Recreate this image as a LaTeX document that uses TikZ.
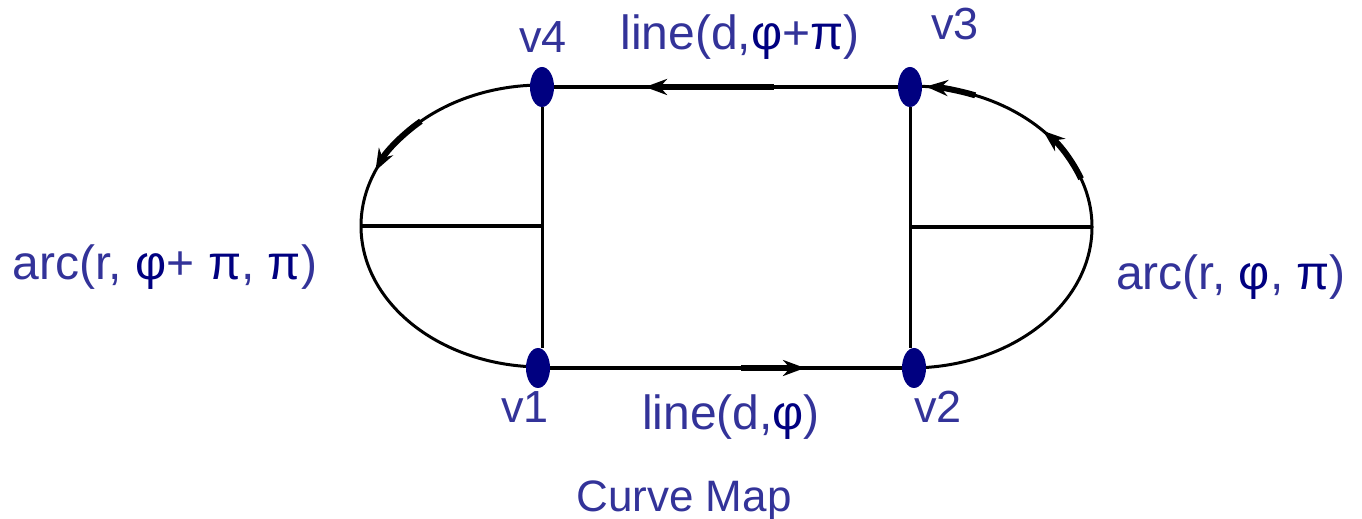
\documentclass[tikz,border=0pt]{standalone}
\usepackage{fontspec}
\setmainfont{Liberation Sans}
\usepackage{xcolor}
\definecolor{cmtext}{HTML}{333399}
\definecolor{cmgreek}{HTML}{000080}
\definecolor{cmdot}{HTML}{000080}
\usetikzlibrary{arrows.meta,calc,shapes.geometric}
\newcommand{\cmphi}{\textcolor{cmgreek}{φ}}
\newcommand{\cmpi}{\textcolor{cmgreek}{π}}
\tikzset{
  cmvert/.style ={ellipse, fill=cmdot, draw=none, minimum width=24pt,
                  minimum height=40pt, inner sep=0pt},
  cmlbl/.style  ={text=cmtext, font=\fontsize{48}{56}\selectfont, inner sep=0pt, anchor=base},
  cmvlbl/.style ={cmlbl, font=\fontsize{45}{52}\selectfont},
  cmedge/.style ={line width=4.5pt, draw=black},
  cmthin/.style ={line width=3pt, draw=black},
  cmtip/.style  ={-{Stealth[length=22pt,width=16pt]}, line width=6pt, draw=black},
}

\begin{document}
\begin{tikzpicture}[x=1pt,y=1pt]
  \useasboundingbox (0,0) rectangle (1362,519);
  % centres of the two half ellipses
  \coordinate (lc) at (542,293);
  \coordinate (rc) at (910,292);
  \coordinate (lw) at ($(lc)+(-181,0)$);
  \coordinate (re) at ($(rc)+(182,0)$);
  \draw[cmthin] ($(lc)+(90:181 and 141)$) arc[start angle=90, end angle=270, x radius=181, y radius=141];
  \draw[cmthin] ($(rc)+(-90:182 and 141)$) arc[start angle=-90, end angle=90, x radius=182, y radius=141];
  \draw[cmedge] (lw) -- (lc);
  \draw[cmedge] (rc) -- (re);
  \draw[cmtip] ($(lc)+(132:181 and 141)$) arc[start angle=132, end angle=157, x radius=181, y radius=141];
  \draw[cmtip] ($(rc)+(20:182 and 141)$) arc[start angle=20, end angle=43, x radius=182, y radius=141];
  \draw[cmtip] ($(rc)+(69:182 and 141)$) arc[start angle=69, end angle=85, x radius=182, y radius=141];

  \node[cmvert] (v4) at (542,432) {};
  \node[cmvert] (v3) at (910,432) {};
  \node[cmvert] (v1) at (538,151) {};
  \node[cmvert] (v2) at (914,151) {};
  \draw[cmthin] (v4.south) -- (v4 |- v1.north);
  \draw[cmthin] (v3.south) -- (v3 |- v2.north);
  \draw[cmedge] (v3) -- (v4);
  \draw[cmedge] (v1) -- (v2);
  \draw[cmtip] ($(v3)!0.37!(v4)$) -- ($(v3)!0.72!(v4)$);
  \draw[cmtip] ($(v1)!0.54!(v2)$) -- ($(v1)!0.71!(v2)$);

  \node[cmvlbl] (t4) at (543,466) {v4};
  \node[cmvlbl] (t3) at (955,479) {v3};
  \node[cmvlbl] (t1) at (525,96) {v1};
  \node[cmvlbl] (t2) at (938,96) {v2};
  \node[cmlbl] (top) at (740,469) {line(d,\cmphi+\cmpi)};
  \node[cmlbl] (bot) at (731,89) {line(d,\cmphi)};
  \node[cmlbl] (left) at (165,239) {arc(r, \cmphi+ \cmpi, \cmpi)};
  \node[cmlbl] (right) at (1231,229) {arc(r, \cmphi, \cmpi)};
  \node[cmvlbl, font=\fontsize{44}{52}\selectfont] (cap) at (684,7) {Curve Map};
\end{tikzpicture}
\end{document}
